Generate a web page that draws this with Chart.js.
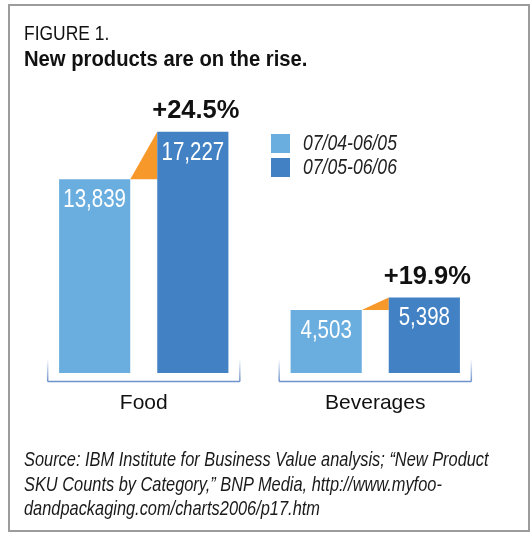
<!DOCTYPE html>
<html lang="en">
<head>
    <meta charset="UTF-8">
    <title>New products are on the rise</title>
    <script src="https://cdn.jsdelivr.net/npm/chart.js"></script>
    <style>
        html, body { margin: 0; padding: 0; background: #fff; }
        body { width: 532px; height: 533px; position: relative; overflow: hidden;
               font-family: "Liberation Sans", Arial, sans-serif; color: #111; }
        .frame { position: absolute; left: 8px; top: 4px; width: 522px; height: 528px; border: 2px solid #9c9c9c; box-sizing: border-box; }
        #chart { position: absolute; left: 0; top: 0; }
        .txt { position: absolute; left: 24px; white-space: nowrap; transform-origin: 0 0; }
        .fig { top: 22px; font-size: 21px; line-height: 21px; transform: scaleX(0.83); }
        .headline { top: 48px; font-size: 22px; line-height: 22px; font-weight: bold; transform: scaleX(0.92); }
        .source { top: 447px; font-size: 21px; line-height: 24.5px; font-style: italic; transform: scaleX(0.78); color: #1a1a1a; }
    </style>
</head>
<body>
    <div class="frame"></div>
    <canvas id="chart" width="532" height="533"></canvas>
    <div class="txt fig">FIGURE 1.</div>
    <div class="txt headline">New products are on the rise.</div>
    <div class="txt source">Source: IBM Institute for Business Value analysis; “New Product<br>SKU Counts by Category,” BNP Media, http://www.myfoo-<br>dandpackaging.com/charts2006/p17.htm</div>

    <script>
        // data
        const categories = ['Food', 'Beverages'];
        const seriesLabels = ['07/04-06/05', '07/05-06/06'];
        const period1 = [13839, 4503];
        const period2 = [17227, 5398];
        const changeLabels = ['+24.5%', '+19.9%'];

        const lightBlue = '#6aaee0';
        const darkBlue = '#4181c4';
        const orange = '#f7982a';
        const font = '"Liberation Sans", Arial, sans-serif';

        // condensed-looking text: squeeze horizontally around the anchor
        function squeezed(ctx, text, x, y, sx) {
            ctx.save();
            ctx.translate(x, y);
            ctx.scale(sx, 1);
            ctx.fillText(text, 0, 0);
            ctx.restore();
        }

        // orange wedge between the two bars, brackets under each group, labels, legend
        const decorations = {
            id: 'decorations',
            beforeDatasetsDraw(chart) {
                const ctx = chart.ctx;
                const m0 = chart.getDatasetMeta(0), m1 = chart.getDatasetMeta(1);
                ctx.save();
                ctx.fillStyle = orange;
                m0.data.forEach((b0, i) => {
                    const b1 = m1.data[i];
                    const x0 = b0.x + b0.width / 2, x1 = b1.x - b1.width / 2;
                    ctx.beginPath();
                    ctx.moveTo(x0, b0.y);
                    ctx.lineTo(x1, b1.y);
                    ctx.lineTo(x1, b0.y);
                    ctx.closePath();
                    ctx.fill();
                });
                const xs = chart.scales.x;
                const bottom = chart.chartArea.bottom;
                const half = xs.width / categories.length * 0.415;
                const yLine = bottom + 8.5;
                ctx.lineWidth = 1.5;
                categories.forEach((c, i) => {
                    const cx = xs.getPixelForValue(i);
                    ctx.strokeStyle = '#6f92cc';
                    ctx.beginPath();
                    ctx.moveTo(cx - half, yLine);
                    ctx.lineTo(cx + half, yLine);
                    ctx.stroke();
                    const g = ctx.createLinearGradient(0, bottom - 14, 0, yLine);
                    g.addColorStop(0, 'rgba(111,146,204,0)');
                    g.addColorStop(1, 'rgba(111,146,204,1)');
                    ctx.strokeStyle = g;
                    [cx - half, cx + half].forEach(x => {
                        ctx.beginPath();
                        ctx.moveTo(x, bottom - 14);
                        ctx.lineTo(x, yLine);
                        ctx.stroke();
                    });
                });
                ctx.restore();
            },
            afterDatasetsDraw(chart) {
                const ctx = chart.ctx;
                const m0 = chart.getDatasetMeta(0), m1 = chart.getDatasetMeta(1);
                ctx.save();
                ctx.textAlign = 'center';
                ctx.textBaseline = 'middle';
                ctx.fillStyle = '#fff';
                ctx.font = '25px ' + font;
                [m0, m1].forEach((m, d) => {
                    m.data.forEach((bar, i) => {
                        const v = chart.data.datasets[d].data[i];
                        squeezed(ctx, v.toLocaleString('en-US'), bar.x, bar.y + 21, 0.82);
                    });
                });
                ctx.fillStyle = '#111';
                ctx.font = 'bold 26px ' + font;
                m1.data.forEach((bar, i) => {
                    squeezed(ctx, changeLabels[i], bar.x + 3, bar.y - 21, 0.98);
                });
                // legend
                ctx.textAlign = 'left';
                ctx.font = 'italic 22px ' + font;
                chart.data.datasets.forEach((ds, d) => {
                    const y = 134 + d * 24;
                    ctx.fillStyle = ds.backgroundColor;
                    ctx.fillRect(271, y, 19, 19);
                    ctx.fillStyle = '#222';
                    squeezed(ctx, ds.label, 303, y + 10, 0.8);
                });
                ctx.restore();
            }
        };

        new Chart(document.getElementById('chart'), {
            type: 'bar',
            data: {
                labels: categories,
                datasets: [
                    { label: seriesLabels[0], data: period1, backgroundColor: lightBlue },
                    { label: seriesLabels[1], data: period2, backgroundColor: darkBlue }
                ]
            },
            options: {
                responsive: false,
                animation: false,
                events: [],
                categoryPercentage: 0.848,
                barPercentage: 0.725,
                layout: { padding: { left: 28, right: 41, top: 93, bottom: 115 } },
                scales: {
                    x: {
                        grid: { display: false, drawTicks: false },
                        border: { display: false },
                        ticks: { color: '#111', font: { family: font, size: 21 }, padding: 18 },
                        afterFit(scale) { scale.height = 45; }
                    },
                    y: { display: false, min: 0, max: 20000 }
                },
                plugins: {
                    legend: { display: false },
                    tooltip: { enabled: false }
                }
            },
            plugins: [decorations]
        });
    </script>
</body>
</html>
